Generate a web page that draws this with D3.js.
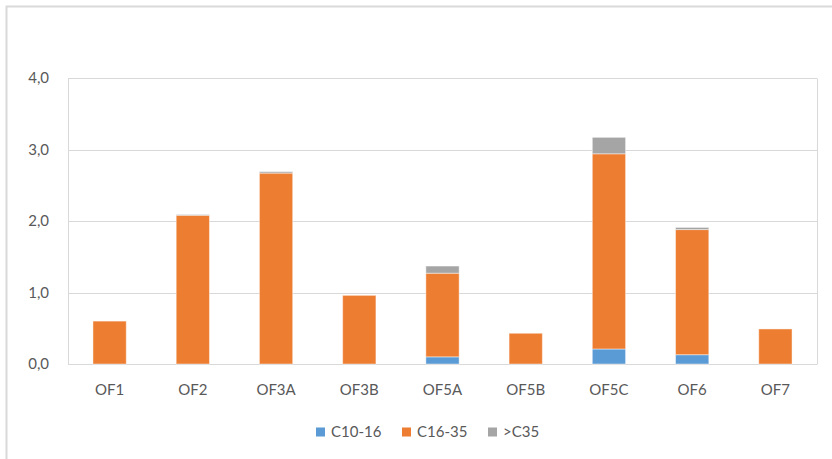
<!DOCTYPE html>
<html>
<head>
<meta charset="utf-8">
<script src="https://cdn.jsdelivr.net/npm/d3@7"></script>
<style>
  html, body { margin: 0; padding: 0; background: #fff; }
  svg { display: block; }
  text { font-family: Lato, "Open Sans", sans-serif; fill: #595959; }
</style>
</head>
<body>
<svg id="chart" width="832" height="459"></svg>
<script>
const categories = ["OF1","OF2","OF3A","OF3B","OF5A","OF5B","OF5C","OF6","OF7"];
const seriesNames = ["C10-16","C16-35",">C35"];
const c10_16 = [0, 0, 0, 0, 0.10, 0, 0.21, 0.13, 0];
const c16_35 = [0.60, 2.08, 2.67, 0.96, 1.17, 0.43, 2.73, 1.75, 0.49];
const gt35   = [0, 0.01, 0.02, 0, 0.10, 0, 0.23, 0.03, 0];
const yTicks = [0, 1, 2, 3, 4];
const colors = ["#5B9BD5", "#ED7D31", "#A5A5A5"];

const rows = categories.map((c, i) => ({
  cat: c, "C10-16": c10_16[i], "C16-35": c16_35[i], ">C35": gt35[i]
}));

const svg = d3.select("#chart");
const plotLeft = 68, plotRight = 817, plotTop = 78, plotBottom = 364;

// outer chart border (cropped at right/bottom)
svg.append("path")
  .attr("d", "M6.5,470 L6.5,6.5 L840,6.5")
  .attr("fill", "none").attr("stroke", "#D9D9D9").attr("stroke-width", 2);

const x = d3.scaleBand().domain(categories).range([plotLeft, plotRight])
  .paddingInner(0.6).paddingOuter(0.3);
const y = d3.scaleLinear().domain([0, 4]).range([plotBottom, plotTop]);

// gridlines
svg.append("g").selectAll("line").data(yTicks).join("line")
  .attr("x1", plotLeft).attr("x2", plotRight)
  .attr("y1", d => Math.round(y(d)) + 0.5).attr("y2", d => Math.round(y(d)) + 0.5)
  .attr("stroke", "#D9D9D9").attr("stroke-width", 1);

// plot area border sides
svg.append("line").attr("x1", plotLeft + 0.5).attr("x2", plotLeft + 0.5)
  .attr("y1", Math.round(y(4)) + 0.5).attr("y2", Math.round(y(0)) + 0.5)
  .attr("stroke", "#D9D9D9");
svg.append("line").attr("x1", plotRight + 0.5).attr("x2", plotRight + 0.5)
  .attr("y1", Math.round(y(4)) + 0.5).attr("y2", Math.round(y(0)) + 0.5)
  .attr("stroke", "#D9D9D9");

// y axis labels
const fmt = d => d3.format(".1f")(d).replace(".", ",");
svg.append("g").selectAll("text").data(yTicks).join("text")
  .attr("x", 49).attr("y", d => y(d)).attr("dy", "0.35em")
  .attr("text-anchor", "end").attr("font-size", 15).text(fmt);

// stacked bars
const stacked = d3.stack().keys(seriesNames)(rows);
svg.append("g").selectAll("g").data(stacked).join("g")
  .attr("fill", (d, i) => colors[i])
  .selectAll("rect").data(d => d.filter(p => p[1] - p[0] > 0)).join("rect")
  .attr("x", d => x(d.data.cat))
  .attr("width", x.bandwidth())
  .attr("y", d => y(d[1]))
  .attr("height", d => y(d[0]) - y(d[1]))
  .attr("stroke", "#ffffff").attr("stroke-opacity", 0.45).attr("stroke-width", 1);

// x labels
svg.append("g").selectAll("text").data(categories).join("text")
  .attr("x", d => x(d) + x.bandwidth() / 2).attr("y", 395)
  .attr("text-anchor", "middle").attr("font-size", 15).text(d => d);

// legend
const legendX = [316, 402, 488];
const lg = svg.append("g").selectAll("g").data(seriesNames).join("g")
  .attr("transform", (d, i) => `translate(${legendX[i]},432)`);
lg.append("rect").attr("x", 0).attr("y", -4.5).attr("width", 9).attr("height", 9)
  .attr("fill", (d, i) => colors[i]);
lg.append("text").attr("x", 15).attr("y", 0).attr("dy", "0.35em")
  .attr("font-size", 15).text(d => d);
</script>
</body>
</html>
